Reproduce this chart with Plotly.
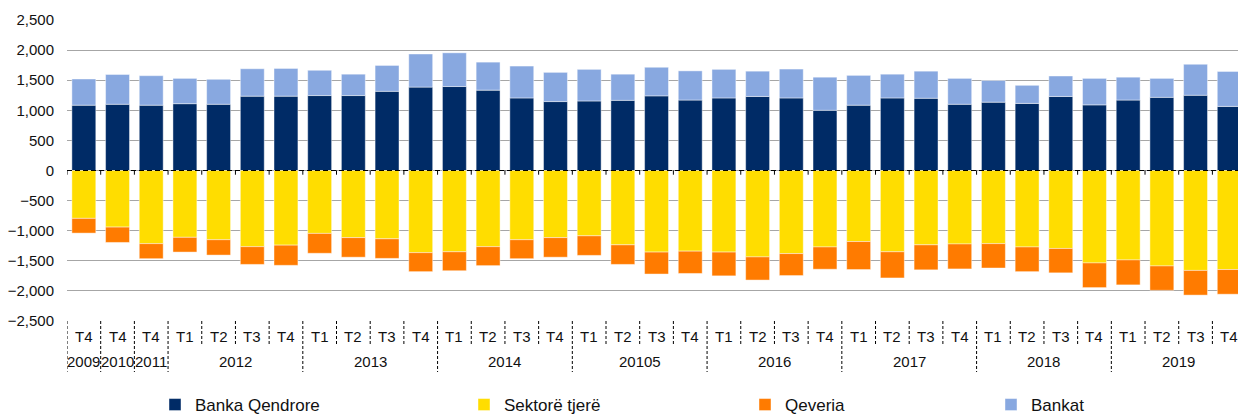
import plotly.graph_objects as go

# Quarterly positions (million EUR), 2009 T4 .. 2019 T4
quarters = ["T4", "T4", "T4"] + ["T1", "T2", "T3", "T4"] * 8
year_labels = ["2009", "2010", "2011", "2012", "2013", "2014", "20105",
               "2016", "2017", "2018", "2019"]
year_spans = [1, 1, 1, 4, 4, 4, 4, 4, 4, 4, 4]

banka_qendrore = [1085, 1100, 1085, 1110, 1100, 1235, 1235, 1245, 1245, 1315,
                  1385, 1395, 1335, 1205, 1145, 1155, 1165, 1240, 1170, 1205,
                  1230, 1205, 1000, 1085, 1205, 1200, 1100, 1135, 1115, 1230,
                  1090, 1170, 1215, 1250, 1065]
bankat = [435, 495, 490, 420, 415, 455, 460, 420, 355, 430,
          550, 560, 465, 530, 485, 525, 435, 475, 485, 475,
          420, 480, 550, 495, 395, 450, 430, 360, 300, 340,
          440, 380, 315, 515, 580]
sektore_tjere = [-795, -940, -1215, -1110, -1150, -1265, -1240, -1045, -1115, -1135,
                 -1365, -1350, -1265, -1150, -1115, -1085, -1235, -1355, -1340, -1355,
                 -1435, -1380, -1270, -1180, -1350, -1235, -1220, -1215, -1270, -1295,
                 -1535, -1485, -1585, -1660, -1645]
qeveria = [-245, -255, -250, -245, -255, -295, -335, -330, -325, -325,
           -315, -315, -315, -315, -325, -325, -325, -365, -370, -395,
           -385, -365, -370, -465, -435, -415, -415, -405, -410, -405,
           -410, -415, -405, -410, -410]

FONT = "Liberation Sans, Arial, sans-serif"
W, H = 1238, 414
ML, MT, MB = 67, 20, 93
plot_h = H - MT - MB

x = list(range(len(quarters)))
x_max = 34.26

series = [
    ("Banka Qendrore", banka_qendrore, "#002B66", "legend"),
    ("Sektorë tjerë", sektore_tjere, "#FFDD00", "legend2"),
    ("Qeveria", qeveria, "#FF7B00", "legend3"),
    ("Bankat", bankat, "#88A8E0", "legend4"),
]

fig = go.Figure()
for name, vals, color, leg in series:
    fig.add_trace(go.Bar(
        x=x, y=vals, name=name, legend=leg,
        marker=dict(color=color, line=dict(color="rgba(255,255,255,0.55)", width=0.8)),
    ))

shapes = []
annotations = []

# dashed zero line with small boundary ticks
shapes.append(dict(type="line", xref="x", yref="y", x0=-0.5, x1=x_max, y0=0, y1=0,
                   line=dict(color="black", width=1, dash="5px,3px"), layer="above"))
for i in range(len(quarters)):
    b = i - 0.5
    shapes.append(dict(type="line", xref="x", yref="y", x0=b, x1=b, y0=0, y1=-70,
                       line=dict(color="black", width=1), layer="above"))

# category axis: quarter row and year row with dashed separators
year_starts = []
pos = 0
for span in year_spans:
    year_starts.append(pos)
    pos += span

short_len = 24 / plot_h
long_len = 51 / plot_h
for i in range(len(quarters)):
    b = i - 0.5
    y1 = -long_len if i in year_starts else -short_len
    shapes.append(dict(type="line", xref="x", yref="paper", x0=b, x1=b, y0=0, y1=y1,
                       line=dict(color="black", width=1, dash="3px,2px")))

for i, q in enumerate(quarters):
    annotations.append(dict(x=i, y=-(336 - (MT + plot_h)) / plot_h, xref="x", yref="paper",
                            text=q, showarrow=False, yanchor="middle", xanchor="center",
                            font=dict(family=FONT, size=15, color="#111")))

for lab, start, span in zip(year_labels, year_starts, year_spans):
    annotations.append(dict(x=start + (span - 1) / 2, y=-(361 - (MT + plot_h)) / plot_h,
                            xref="x", yref="paper", text=lab, showarrow=False,
                            yanchor="middle", xanchor="center",
                            font=dict(family=FONT, size=15, color="#111")))

# legend entries placed individually along the bottom
legend_centers = [186, 495, 776, 1022]
leg_common = dict(orientation="h", xref="container", yref="container",
                  yanchor="middle", xanchor="left", y=9 / H,
                  bgcolor="rgba(0,0,0,0)", borderwidth=0,
                  font=dict(family=FONT, size=17, color="#111"))
layout_legends = {}
for key, cx in zip(["legend", "legend2", "legend3", "legend4"], legend_centers):
    layout_legends[key] = dict(leg_common, x=(cx - 31) / W)

fig.update_layout(
    width=W, height=H,
    margin=dict(l=ML, r=0, t=MT, b=MB),
    barmode="relative", bargap=0.29,
    plot_bgcolor="white", paper_bgcolor="white",
    font=dict(family=FONT, size=15, color="#111"),
    xaxis=dict(range=[-0.5, x_max], showticklabels=False, showgrid=False,
               zeroline=False, showline=False, ticks=""),
    yaxis=dict(range=[-2500, 2500], dtick=500, tickformat=",", showgrid=True,
               gridcolor="#A6A6A6", gridwidth=1, zeroline=False, showline=False,
               ticks="", ticklabelstandoff=12, tickfont=dict(family=FONT, size=15, color="#111")),
    shapes=shapes, annotations=annotations,
    showlegend=True,
    **layout_legends,
)

fig.write_html("out.html")
